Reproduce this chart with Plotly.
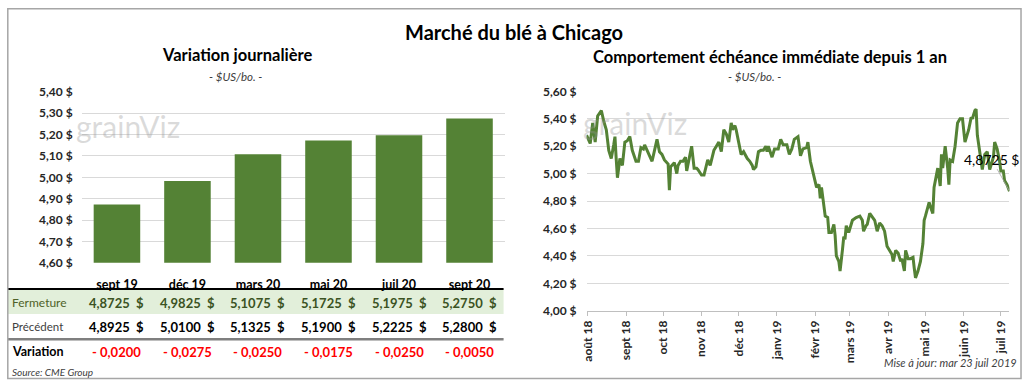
import plotly.graph_objects as go

# ---------------- data ----------------
contracts = ["sept 19", "déc 19", "mars 20", "mai 20", "juil 20", "sept 20"]
fermeture = [4.8725, 4.9825, 5.1075, 5.1725, 5.1975, 5.2750]
precedent = [4.8925, 5.0100, 5.1325, 5.1900, 5.2225, 5.2800]
variation = [-0.0200, -0.0275, -0.0250, -0.0175, -0.0250, -0.0050]

hist_dates = [
    "2018-07-31", "2018-08-03", "2018-08-05", "2018-08-06", "2018-08-07", "2018-08-09", "2018-08-12",
    "2018-08-14", "2018-08-16", "2018-08-18", "2018-08-20", "2018-08-22", "2018-08-23", "2018-08-24",
    "2018-08-25", "2018-08-27", "2018-08-29", "2018-08-31", "2018-09-02", "2018-09-04", "2018-09-06",
    "2018-09-09", "2018-09-11", "2018-09-13", "2018-09-15", "2018-09-16", "2018-09-19", "2018-09-22",
    "2018-09-25", "2018-09-26", "2018-09-28", "2018-09-30", "2018-10-02", "2018-10-05", "2018-10-06",
    "2018-10-07", "2018-10-10", "2018-10-12", "2018-10-13", "2018-10-15", "2018-10-17", "2018-10-19",
    "2018-10-20", "2018-10-22", "2018-10-24", "2018-10-26", "2018-10-28", "2018-10-29", "2018-11-01",
    "2018-11-03", "2018-11-05", "2018-11-06", "2018-11-08", "2018-11-10", "2018-11-11", "2018-11-13",
    "2018-11-15", "2018-11-17", "2018-11-19", "2018-11-21", "2018-11-22", "2018-11-23", "2018-11-25",
    "2018-11-26", "2018-11-28", "2018-11-29", "2018-12-01", "2018-12-03", "2018-12-05", "2018-12-07",
    "2018-12-08", "2018-12-10", "2018-12-12", "2018-12-13", "2018-12-15", "2018-12-17", "2018-12-19",
    "2018-12-21", "2018-12-23", "2018-12-24", "2018-12-25", "2018-12-28", "2018-12-30", "2019-01-02",
    "2019-01-04", "2019-01-06", "2019-01-09", "2019-01-11", "2019-01-13", "2019-01-15", "2019-01-18",
    "2019-01-20", "2019-01-22", "2019-01-25", "2019-01-26", "2019-01-28", "2019-01-30", "2019-02-02",
    "2019-02-04", "2019-02-05", "2019-02-06", "2019-02-08", "2019-02-09", "2019-02-11", "2019-02-12",
    "2019-02-14", "2019-02-16", "2019-02-17", "2019-02-18", "2019-02-20", "2019-02-21", "2019-02-23",
    "2019-02-24", "2019-02-25", "2019-02-26", "2019-02-28", "2019-03-02", "2019-03-03", "2019-03-06",
    "2019-03-09", "2019-03-11", "2019-03-12", "2019-03-14", "2019-03-15", "2019-03-17", "2019-03-19",
    "2019-03-21", "2019-03-23", "2019-03-25", "2019-03-27", "2019-03-29", "2019-03-31", "2019-04-02",
    "2019-04-04", "2019-04-05", "2019-04-07", "2019-04-09", "2019-04-11", "2019-04-12", "2019-04-14",
    "2019-04-15", "2019-04-17", "2019-04-19", "2019-04-21", "2019-04-22", "2019-04-23", "2019-04-25",
    "2019-04-27", "2019-04-29", "2019-04-30", "2019-05-01", "2019-05-03", "2019-05-04", "2019-05-05",
    "2019-05-07", "2019-05-08", "2019-05-10", "2019-05-11", "2019-05-13", "2019-05-14", "2019-05-15",
    "2019-05-17", "2019-05-19", "2019-05-20", "2019-05-21", "2019-05-23", "2019-05-25", "2019-05-27",
    "2019-05-29", "2019-05-31", "2019-06-02", "2019-06-05", "2019-06-07", "2019-06-08", "2019-06-10",
    "2019-06-11", "2019-06-12", "2019-06-14", "2019-06-16", "2019-06-18", "2019-06-20", "2019-06-22",
    "2019-06-25", "2019-06-26", "2019-06-28", "2019-06-30", "2019-07-01", "2019-07-03", "2019-07-04",
    "2019-07-06", "2019-07-08",
]
hist_prices = [
    5.28, 5.22, 5.37, 5.30, 5.23, 5.42, 5.46,
    5.38, 5.32, 5.17, 5.11, 5.21, 5.27, 5.11,
    4.97, 5.11, 5.06, 5.23, 5.24, 5.27, 5.17,
    5.09, 5.09, 5.19, 5.18, 5.21, 5.15, 5.09,
    5.21, 5.25, 5.16, 5.14, 5.10, 5.07, 4.88,
    5.05, 5.08, 5.00, 5.06, 5.09, 5.09, 5.12,
    5.02, 5.11, 5.20, 5.04, 5.04, 5.03, 4.99,
    4.99, 5.06, 5.10, 5.06, 5.14, 5.17, 5.20,
    5.23, 5.16, 5.32, 5.29, 5.26, 5.23, 5.37,
    5.32, 5.35, 5.32, 5.23, 5.14, 5.16, 5.12,
    5.11, 5.09, 5.06, 5.03, 5.05, 5.16, 5.17,
    5.17, 5.20, 5.16, 5.20, 5.12, 5.18, 5.18,
    5.25, 5.21, 5.21, 5.14, 5.18, 5.25, 5.27,
    5.13, 5.18, 5.19, 5.23, 5.09, 5.02, 4.90,
    4.92, 4.82, 4.90, 4.76, 4.69, 4.68, 4.57,
    4.57, 4.63, 4.55, 4.40, 4.36, 4.29, 4.45,
    4.54, 4.52, 4.62, 4.57, 4.64, 4.66, 4.68,
    4.69, 4.66, 4.58, 4.62, 4.63, 4.71, 4.68,
    4.66, 4.58, 4.64, 4.62, 4.58, 4.47, 4.44,
    4.41, 4.36, 4.44, 4.42, 4.36, 4.38, 4.29,
    4.44, 4.38, 4.38, 4.39, 4.31, 4.24, 4.29,
    4.36, 4.49, 4.66, 4.69, 4.77, 4.79, 4.76,
    4.71, 4.90, 4.99, 5.04, 4.91, 5.14, 5.04,
    5.20, 5.04, 4.92, 5.10, 5.09, 5.20, 5.37,
    5.40, 5.40, 5.23, 5.32, 5.41, 5.40, 5.46,
    5.47, 5.28, 5.14, 5.03, 5.14, 5.16, 5.03,
    5.12, 5.23, 5.18, 5.09, 5.02, 5.02, 4.95,
    4.92, 4.8725,
]

month_ticks = ["2018-08-01", "2018-09-01", "2018-10-01", "2018-11-01", "2018-12-01", "2019-01-01",
               "2019-02-01", "2019-03-01", "2019-04-01", "2019-05-01", "2019-06-01", "2019-07-01"]
month_labels = ["août 18", "sept 18", "oct 18", "nov 18", "déc 18", "janv 19",
                "févr 19", "mars 19", "avr 19", "mai 19", "juin 19", "juil 19"]

# ---------------- layout helpers ----------------
W, H = 1024, 387
FONT = "Lato"
GREEN = "#548235"


def fx(px):
    return px / W


def fy(py):
    return 1 - py / H


def fr(v):
    return f"{v:.4f}".replace(".", ",")


fig = go.Figure()

fig.add_trace(go.Bar(
    x=contracts, y=fermeture, marker=dict(color=GREEN, line=dict(width=0)),
    xaxis="x", yaxis="y", hoverinfo="skip",
))

fig.add_trace(go.Scatter(
    x=hist_dates, y=hist_prices, mode="lines",
    line=dict(color=GREEN, width=3), xaxis="x2", yaxis="y2", hoverinfo="skip",
))

annotations = []


def text(x, y, s, size, color="#000000", bold=False, italic=False, xanchor="center", xref="paper", yref="paper"):
    if bold:
        s = f"<b>{s}</b>"
    if italic:
        s = f"<i>{s}</i>"
    annotations.append(dict(
        x=x, y=y, xref=xref, yref=yref, text=s, showarrow=False,
        xanchor=xanchor, yanchor="middle",
        font=dict(family=FONT, size=size, color=color),
    ))


# titles
text(fx(510), fy(25), "Marché du blé à Chicago", 20, bold=True)
text(fx(232), fy(49), "Variation journalière", 16.5, bold=True)
text(fx(230), fy(71), "- $US/bo. -", 11.5, color="#404040", italic=True)
text(fx(768), fy(51), "Comportement échéance immédiate depuis 1 an", 16.5, bold=True)
text(fx(753), fy(71), "- $US/bo. -", 11.5, color="#404040", italic=True)

# watermarks
for wx, wy in [(122, 123), (632, 120)]:
    text(fx(wx), fy(wy), "grainViz", 30, color="rgba(150,150,150,0.35)")

# table rows
text(fx(3), fy(306.7), "Fermeture", 12, color="#4f6228", xanchor="left")
text(fx(3), fy(331.7), "Précédent", 11.5, color="#404040", xanchor="left")
text(fx(3), fy(357.7), "Variation", 12.5, bold=True, xanchor="left")
NB = "\u00a0"
for c, f_, p_, v_ in zip(contracts, fermeture, precedent, variation):
    text(c, fy(306.7), fr(f_) + NB * 2 + "$", 13, color="#3b5323", bold=True, xref="x")
    text(c, fy(331.7), fr(p_) + NB * 2 + "$", 13, color="#000000", bold=True, xref="x")
    sign = "-" if v_ < 0 else "+"
    text(c, fy(357.7), f"{sign} {fr(abs(v_))}", 13, color="#ff0000", bold=True, xref="x")

text(fx(3), fy(379), "Source: CME Group", 10, color="#404040", italic=True, xanchor="left")
text(fx(1019), fy(369), "Mise à jour: mar 23 juil 2019", 11, color="#404040", italic=True, xanchor="right")

# last value label with leader line
annotations.append(dict(
    x=hist_dates[-1], y=hist_prices[-1], xref="x2", yref="y2",
    text="4,8725 $", showarrow=True, arrowhead=0, arrowwidth=0.8, arrowcolor="#a6a6a6",
    ax=-18, ay=-32, font=dict(family=FONT, size=14, color="#000000"),
))

shapes = [
    dict(type="rect", xref="paper", yref="paper", x0=fx(1), x1=fx(500), y0=fy(318.3), y1=fy(292.3),
         fillcolor="#e2efda", line=dict(width=0), layer="below"),
    dict(type="line", xref="paper", yref="paper", x0=fx(1), x1=fx(500), y0=fy(292.3), y1=fy(292.3),
         line=dict(color="#000000", width=2)),
    dict(type="line", xref="paper", yref="paper", x0=fx(1), x1=fx(500), y0=fy(344.5), y1=fy(344.5),
         line=dict(color="#7f7f7f", width=2.5)),
    dict(type="rect", xref="paper", yref="paper", x0=fx(0.8), x1=fx(1021), y0=fy(385.5), y1=fy(0.8),
         line=dict(color="#a6a6a6", width=1.5)),
]

tickfont = dict(family=FONT, size=12, color="#262626")

fig.update_layout(
    width=W, height=H,
    margin=dict(l=0, r=0, t=0, b=0),
    paper_bgcolor="white", plot_bgcolor="white",
    showlegend=False,
    separators=", ",
    bargap=0.34,
    annotations=annotations,
    shapes=shapes,
    xaxis=dict(
        domain=[fx(75.2), fx(501.2)], anchor="y", type="category",
        showgrid=False, showline=False, ticks="", ticklabelstandoff=13,
        tickfont=dict(family=FONT, size=12.5, color="#000000"),
        tickprefix="<b>", ticksuffix="</b>",
    ),
    yaxis=dict(
        domain=[fy(265), fy(87.3)], anchor="x", range=[4.60, 5.40], dtick=0.10,
        tickformat=".2f",
        showgrid=True, gridcolor="#d9d9d9", gridwidth=1, zeroline=False, showline=False,
        ticks="", ticklabelstandoff=8, tickfont=tickfont,
    ),
    xaxis2=dict(
        domain=[fx(583.5), fx(1009.4)], anchor="y2", type="date",
        range=["2018-07-31", "2019-07-08"],
        tickmode="array", tickvals=month_ticks, ticktext=[f"<b>{m}</b>" for m in month_labels],
        tickangle=-90, showgrid=False, showline=True, linecolor="#bfbfbf", linewidth=1,
        ticks="outside", ticklen=4, tickcolor="#bfbfbf", tickfont=tickfont,
    ),
    yaxis2=dict(
        domain=[fy(315), fy(86.7)], anchor="x2", range=[4.00, 5.60], dtick=0.20,
        tickformat=".2f",
        showgrid=True, gridcolor="#d9d9d9", gridwidth=1, zeroline=False, showline=False,
        ticks="", ticklabelstandoff=9, tickfont=tickfont,
    ),
)

fig.update_yaxes(tickprefix="<b>", ticksuffix=" $</b>")

fig.write_html(
    "out.html",
    config={"displayModeBar": False},
    post_script="document.body.style.margin='0';document.body.style.overflow='hidden';",
)
